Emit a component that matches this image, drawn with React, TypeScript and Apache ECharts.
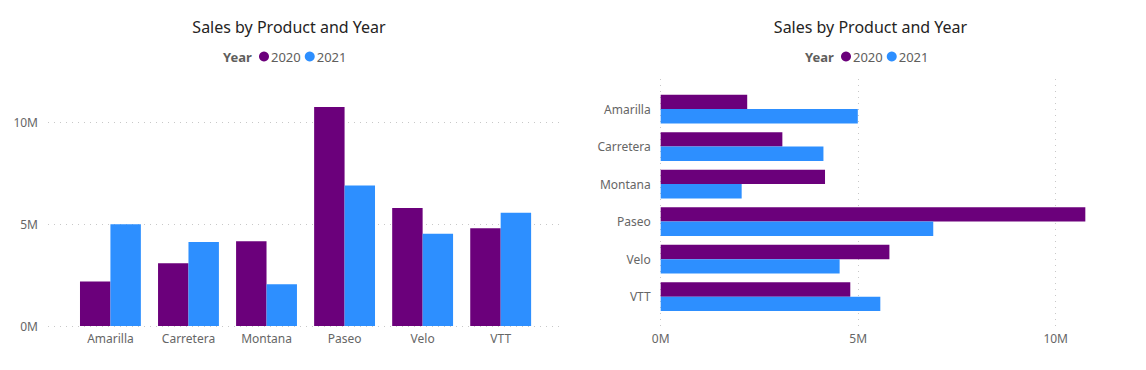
import React, { useEffect, useRef } from "react";
import * as echarts from "echarts";

const products = ["Amarilla", "Carretera", "Montana", "Paseo", "Velo", "VTT"];
const sales2020 = [2190000, 3080000, 4160000, 10750000, 5790000, 4800000];
const sales2021 = [4990000, 4120000, 2050000, 6900000, 4530000, 5560000];
const years = ["2020", "2021"];
const valueTicks = { min: 0, max: 10000000, interval: 5000000 };

const PURPLE = "#6B007B";
const BLUE = "#2D8FFF";
const FONT = "'Segoe UI', 'Noto Sans', sans-serif";
const LABEL = "#666666";
const GRID = "#c8c8c8";
const fmtM = (v: number) => `${Math.round(v / 1000000)}M`;

export default function App() {
  const ref = useRef<HTMLDivElement>(null);
  useEffect(() => {
    if (!ref.current) return;
    const chart = echarts.init(ref.current, undefined, { renderer: "svg" });
    const dotted = { color: GRID, width: 1, type: [1, 5] as any };
    const titleText = (x: number) => ({
      type: "text",
      x,
      y: 26.5,
      style: {
        text: "Sales by Product and Year",
        fill: "#252423",
        font: `16px ${FONT}`,
        textAlign: "center",
        textVerticalAlign: "middle",
      },
    });
    const yearText = (x: number) => ({
      type: "text",
      x,
      y: 56.5,
      style: {
        text: "Year",
        fill: "#605E5C",
        font: `bold 13px ${FONT}`,
        textAlign: "left",
        textVerticalAlign: "middle",
      },
    });
    const legend = (left: number) => ({
      data: years,
      left,
      top: 50,
      padding: 0,
      icon: "circle",
      itemWidth: 10,
      itemHeight: 10,
      itemGap: 4,
      selectedMode: false,
      textStyle: { fontSize: 13, color: "#605E5C", fontFamily: FONT, padding: [0, 0, 0, -3] },
    });
    const barStyle = (c: string) => ({ color: c });
    chart.setOption({
      animation: false,
      textStyle: { fontFamily: FONT },
      graphic: [titleText(289), titleText(870.5), yearText(223), yearText(805)],
      legend: [legend(259), legend(841)],
      grid: [
        { left: 48, top: 122.3, width: 514, height: 203.7 },
        { left: 71.4, top: 122.3, width: 468.3, height: 203.7 },
        { left: 660.7, top: 79, width: 395, height: 247 },
        { left: 660.7, top: 90.3, width: 395, height: 225.1 },
      ],
      xAxis: [
        { gridIndex: 0, type: "value", min: 0, max: 1, show: false },
        {
          gridIndex: 1,
          type: "category",
          data: products,
          axisLine: { show: false },
          axisTick: { show: false },
          axisLabel: { color: LABEL, fontSize: 12, margin: 6, fontFamily: FONT },
        },
        {
          gridIndex: 2,
          type: "value",
          ...valueTicks,
          axisLine: { show: false },
          axisTick: { show: false },
          splitLine: { show: true, lineStyle: dotted },
          axisLabel: { color: LABEL, fontSize: 12, margin: 6, fontFamily: FONT, formatter: fmtM },
        },
        { gridIndex: 3, type: "value", ...valueTicks, show: false },
      ],
      yAxis: [
        {
          gridIndex: 0,
          type: "value",
          ...valueTicks,
          axisLine: { show: false },
          axisTick: { show: false },
          splitLine: { show: true, lineStyle: dotted },
          axisLabel: { color: LABEL, fontSize: 12, margin: 10, fontFamily: FONT, formatter: fmtM },
        },
        { gridIndex: 1, type: "value", ...valueTicks, show: false },
        { gridIndex: 2, type: "value", min: 0, max: 1, show: false },
        {
          gridIndex: 3,
          type: "category",
          data: products,
          inverse: true,
          axisLine: { show: false },
          axisTick: { show: false },
          axisLabel: { color: LABEL, fontSize: 12, margin: 10, fontFamily: FONT },
        },
      ],
      series: [
        {
          name: years[0], type: "bar", xAxisIndex: 1, yAxisIndex: 1, data: sales2020,
          itemStyle: barStyle(PURPLE), barGap: "0%", barCategoryGap: "22%", clip: false,
        },
        {
          name: years[1], type: "bar", xAxisIndex: 1, yAxisIndex: 1, data: sales2021,
          itemStyle: barStyle(BLUE), barGap: "0%", barCategoryGap: "22%", clip: false,
        },
        {
          name: years[0], type: "bar", xAxisIndex: 3, yAxisIndex: 3, data: sales2020,
          itemStyle: barStyle(PURPLE), barGap: "0%", barCategoryGap: "23.5%", clip: false,
        },
        {
          name: years[1], type: "bar", xAxisIndex: 3, yAxisIndex: 3, data: sales2021,
          itemStyle: barStyle(BLUE), barGap: "0%", barCategoryGap: "23.5%", clip: false,
        },
      ],
    });
    return () => chart.dispose();
  }, []);
  return (
    <div
      ref={ref}
      style={{ position: "absolute", left: 0, top: 0, width: 1146, height: 370, background: "#fff" }}
    />
  );
}
